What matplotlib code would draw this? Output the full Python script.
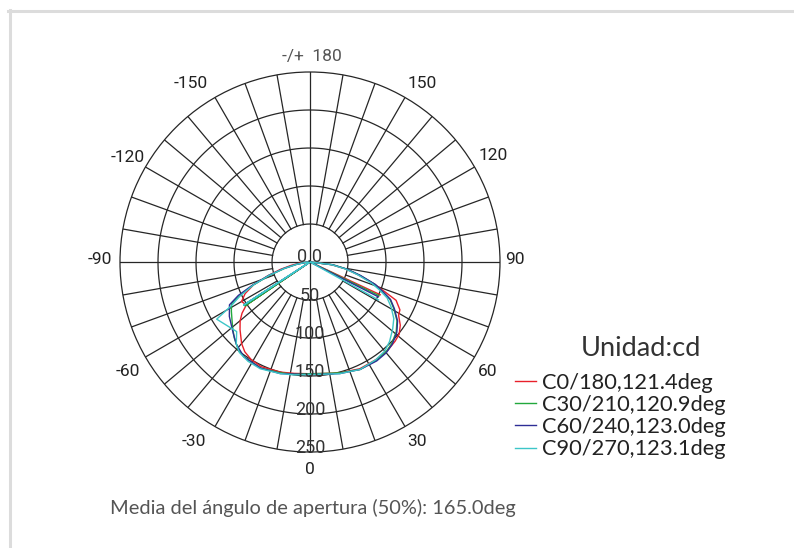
import numpy as np
import matplotlib.pyplot as plt

# 曲線データ (角度[deg], 光度[cd]) 描画順
red_angle = [87, 83, 79, 75, 71, 68, 66, 62, 59, 55, 51, 47, 41, 34, 25, 15, 8, 0, -8, -15, -25, -31, -36, -40, -46, -50, -53, -56, -60, -64, -68, -72, -76, -80, -85, -89]
red_cd = [0, 28, 48, 66, 90, 108, 124, 134, 136, 145, 151, 153, 155, 155, 155, 151, 148, 147, 148, 150, 152, 150, 146, 140, 128, 120, 112, 101, 104, 95, 80, 58, 40, 25, 12, 0]

green_angle = [87, 83, 79, 75, 71, 68, 65, 61, 56, 51, 45, 40, 34, 25, 15, 8, 0, -8, -15, -25, -35, -40, -45, -50, -54, -58, -62, -65, -68, -72, -76, -80, -85, -89]
green_cd = [0, 31, 50, 68, 90, 102, 116, 126, 138, 146, 152, 155, 156, 156, 151, 148, 147, 149, 151, 154, 152, 148, 141, 133, 127, 122, 117, 99, 80, 55, 34, 18, 6, 0]

blue_angle = [87, 83, 79, 75, 71, 68, 65, 61, 56, 51, 45, 40, 34, 25, 15, 8, 0, -8, -15, -25, -35, -42, -47, -51, -56, -62, -65, -68, -72, -76, -80, -85, -89]
blue_cd = [0, 30, 50, 69, 91, 103, 117, 127, 139, 147, 153, 156, 157, 156, 152, 149, 148, 149, 152, 154, 152, 145, 138, 133, 128, 120, 104, 82, 57, 36, 19, 6, 0]

cyan_angle = [87, 83, 79, 75, 71, 68, 65, 61, 56, 51, 45, 40, 34, 25, 15, 8, 0, -8, -15, -25, -32, -38, -42, -46.5, -58.5, -61, -64, -68, -72, -76, -80, -85, -89]
cyan_cd = [0, 28, 47, 65, 86, 99, 112, 122, 133, 140, 148, 153, 155, 156, 152, 149, 148, 150, 152, 155, 154, 151, 145, 133, 144, 118, 103, 80, 56, 35, 18, 6, 0]

# 中心からの直線 (右側/左側)
right_inner_angle = [65, 64, 63, 61]
right_inner_cd = [102, 101, 101, 103]
left_inner_angle = [-56, -56, -57, -57]
left_inner_cd = [101, 103, 103, 104]

series_names = ['C0/180,121.4deg', 'C30/210,120.9deg', 'C60/240,123.0deg', 'C90/270,123.1deg']
series_colors = ['#e8202a', '#22a83c', '#2e2e96', '#3cc6c8']
series_angles = [red_angle, green_angle, blue_angle, cyan_angle]
series_cd = [red_cd, green_cd, blue_cd, cyan_cd]

ring_values = [0, 50, 100, 150, 200, 250]
ring_labels = ['0.0', '50', '100', '150', '200', '250']
angle_labels = ['0', '30', '60', '90', '120', '150', '-/+  180', '-150', '-120', '-90', '-60', '-30']
# 角度ラベルの位置 (ピクセル)
angle_label_px = [(310, 469), (417, 442), (488, 371), (515, 260), (493, 155), (422, 84), (312, 57),
                  (191, 84), (128, 157), (100, 260), (128, 371), (194, 442)]

W, H = 794, 548
grid_color = '#262626'

fig = plt.figure(figsize=(W / 100, H / 100), dpi=100)
ax = fig.add_axes([120 / W, 96 / H, 380 / W, 380 / H], projection='polar')
ax.set_theta_zero_location('S')
ax.set_theta_direction(1)
ax.set_ylim(0, 250)
ax.set_xticks([])
ax.set_yticks([])
ax.grid(False)
ax.spines['polar'].set_color(grid_color)
ax.spines['polar'].set_linewidth(0.9)

# 同心円と放射線
t = np.linspace(0, 2 * np.pi, 400)
for r in ring_values[1:-1]:
    ax.plot(t, np.full_like(t, r), color=grid_color, lw=0.9, zorder=1)
for a in range(0, 360, 10):
    r0 = 0 if a % 90 == 0 else 50
    ax.plot([np.deg2rad(a)] * 2, [r0, 250], color=grid_color, lw=0.9, zorder=1)

# 配光曲線
for i in range(4):
    ang = list(series_angles[i]) + [left_inner_angle[i], left_inner_angle[i], left_inner_angle[i],
                                    right_inner_angle[i], right_inner_angle[i]]
    val = list(series_cd[i]) + [0, left_inner_cd[i], 0, 0, right_inner_cd[i]]
    ax.plot(np.deg2rad(ang), val, color=series_colors[i], lw=1.0, zorder=3, label=series_names[i])

# 角度ラベル
for lab, (px, py) in zip(angle_labels, angle_label_px):
    col = '#555555' if '180' in lab else '#222222'
    fig.text(px / W, 1 - py / H, lab, ha='center', va='center', fontsize=12.5,
             family='Roboto', color=col)

# 光度ラベル
ax.text(np.pi, 6, ring_labels[0], ha='center', va='center', fontsize=13, family='Roboto', color='#333333', zorder=4)
for v, lab in zip(ring_values[1:], ring_labels[1:]):
    ax.text(0, v - 5, lab, ha='center', va='center', fontsize=13, family='Roboto', color='#333333', zorder=4)

# 凡例
fig.text(641 / W, 1 - 349 / H, 'Unidad:cd', ha='center', va='center', fontsize=19.5, family='Lato', color='#333333')
fig.legend(loc='upper left', bbox_to_anchor=(506 / W, 1 - 364 / H), frameon=False,
           prop={'family': 'Lato', 'size': 15.75}, handlelength=0.96, handletextpad=0.27,
           labelspacing=0.1, borderaxespad=0, labelcolor='#222222')

fig.text(110 / W, 1 - 508 / H, 'Media del ángulo de apertura (50%): 165.0deg', ha='left', va='center',
         fontsize=14.4, family='Lato', color='#555555')

# 枠線
fig.add_artist(plt.Line2D([8 / W, 1], [1 - 11 / H] * 2, color='#dcdcdc', lw=2.2, transform=fig.transFigure))
fig.add_artist(plt.Line2D([9.5 / W] * 2, [0, 1 - 10 / H], color='#dcdcdc', lw=2.2, transform=fig.transFigure))

plt.savefig('out.png', dpi=100)
plt.close()
